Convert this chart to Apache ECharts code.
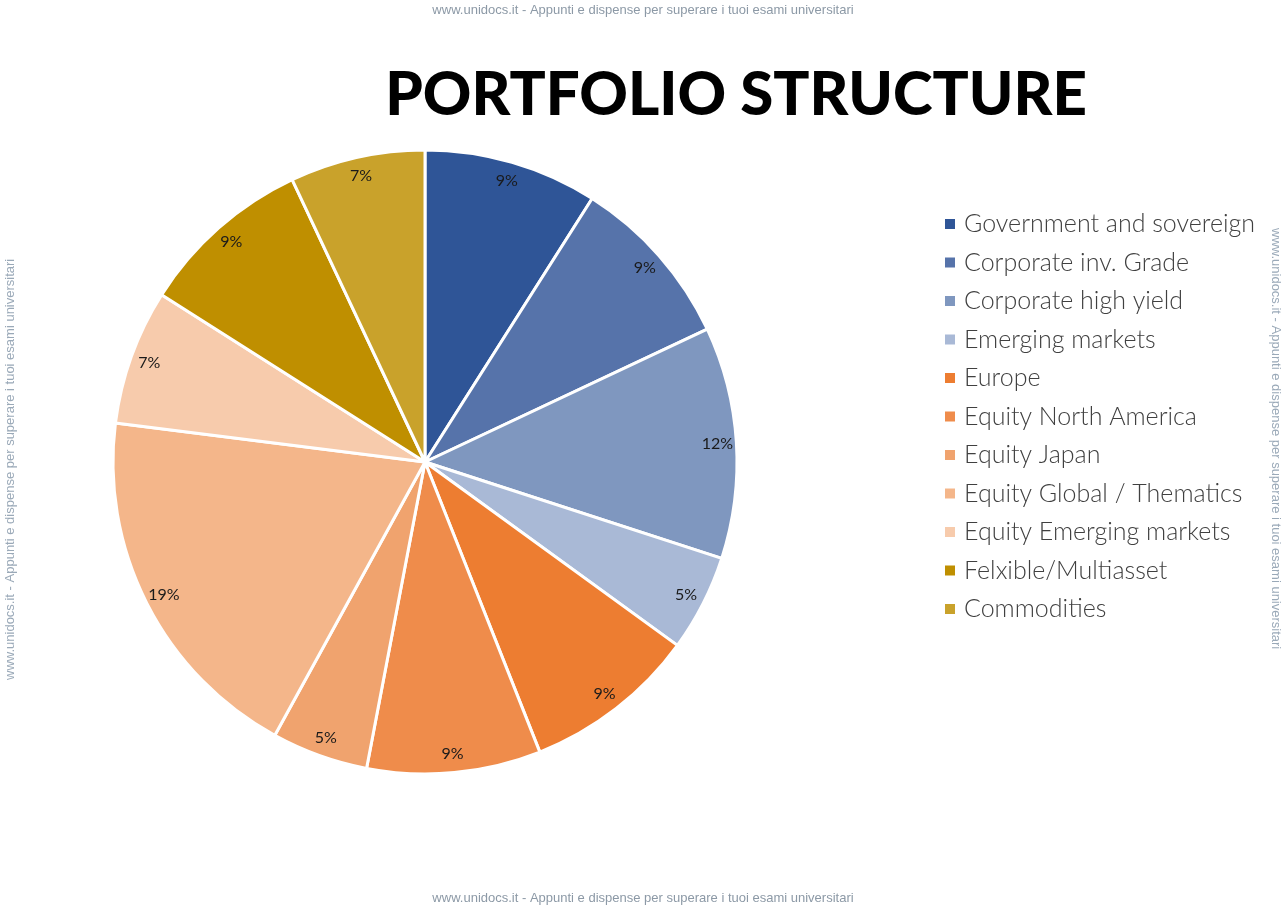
<!DOCTYPE html>
<html>
<head>
<meta charset="utf-8">
<script src="https://cdn.jsdelivr.net/npm/echarts@6/dist/echarts.min.js"></script>
<style>
  html, body { margin: 0; padding: 0; background: #fff; }
  #main { width: 1286px; height: 909px; }
</style>
</head>
<body>
<div id="main"></div>
<script>
var categories = [
  'Government and sovereign',
  'Corporate inv. Grade',
  'Corporate high yield',
  'Emerging markets',
  'Europe',
  'Equity North America',
  'Equity Japan',
  'Equity Global / Thematics',
  'Equity Emerging markets',
  'Felxible/Multiasset',
  'Commodities'
];
var shares = [9, 9, 12, 5, 9, 9, 5, 19, 7, 9, 7];
var colors = [
  '#2F5597', '#5673AA', '#7F97BF', '#A9B9D6',
  '#ED7D31', '#EF8C4B', '#F0A36E', '#F4B68A', '#F7CBAC',
  '#BF8F00', '#C9A22B'
];
var watermark = 'www.unidocs.it - Appunti e dispense per superare i tuoi esami universitari';

var chart = echarts.init(document.getElementById('main'));

var pieData = categories.map((name, i) => ({
  name: name,
  value: shares[i],
  itemStyle: { color: colors[i] }
}));

chart.setOption({
  backgroundColor: '#fff',
  animation: false,
  title: {
    text: 'PORTFOLIO STRUCTURE',
    left: 731,
    top: 61,
    textAlign: 'center',
    textStyle: {
      fontFamily: 'Lato',
      fontWeight: 900,
      fontSize: 60,
      color: '#000'
    }
  },
  legend: {
    orient: 'vertical',
    left: 938,
    top: 205,
    itemWidth: 12,
    itemHeight: 12,
    itemGap: 10.5,
    icon: 'rect',
    data: categories,
    textStyle: {
      fontFamily: 'Lato',
      fontWeight: 300,
      fontSize: 25,
      lineHeight: 28,
      color: '#404040',
      padding: [0, 0, 0, 3]
    }
  },
  graphic: [
    { type: 'text', left: 'center', top: 4,
      style: { text: watermark, font: '13px "Liberation Sans"', fill: '#8c99a6' } },
    { type: 'text', left: 'center', top: 892,
      style: { text: watermark, font: '13px "Liberation Sans"', fill: '#8c99a6' } },
    { type: 'text', x: 4, y: 680, rotation: Math.PI / 2,
      style: { text: watermark, font: '13px "Liberation Sans"', fill: '#9aa9b8' } },
    { type: 'text', x: 1282, y: 228, rotation: -Math.PI / 2,
      style: { text: watermark, font: '13px "Liberation Sans"', fill: '#9aa9b8' } }
  ],
  series: [
    {
      type: 'pie',
      center: [425, 462],
      radius: [0, 312],
      startAngle: 90,
      clockwise: true,
      data: pieData,
      label: { show: false },
      labelLine: { show: false },
      itemStyle: { borderColor: '#fff', borderWidth: 3 },
      emphasis: { disabled: true }
    },
    {
      // transparent ring, only used to place the % labels near the rim
      type: 'pie',
      center: [425, 462],
      radius: [268, 312],
      startAngle: 90,
      clockwise: true,
      silent: true,
      data: pieData.map(d => ({ name: d.name, value: d.value, itemStyle: { color: 'rgba(0,0,0,0)' } })),
      itemStyle: { borderWidth: 0 },
      label: {
        show: true,
        position: 'inside',
        formatter: p => p.value + '%',
        fontFamily: 'Lato',
        fontSize: 16,
        color: '#1a1a1a'
      },
      labelLine: { show: false },
      emphasis: { disabled: true }
    }
  ]
});
</script>
</body>
</html>
